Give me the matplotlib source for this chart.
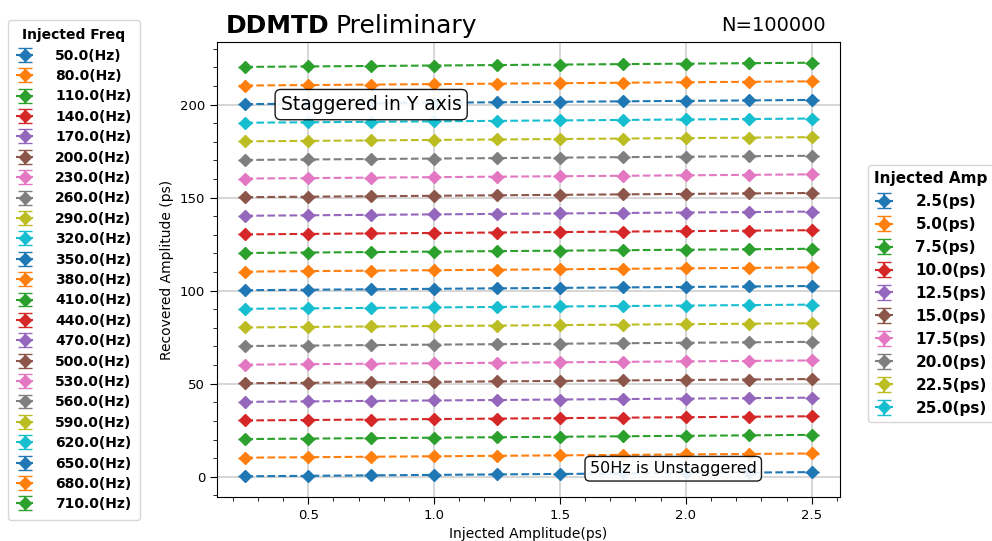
import matplotlib
matplotlib.use("Agg")
import matplotlib.pyplot as plt
from matplotlib.ticker import MultipleLocator

# ---- data ----
injected_amp = [0.25, 0.5, 0.75, 1.0, 1.25, 1.5, 1.75, 2.0, 2.25, 2.5]
recovered_amp = [0.25, 0.5, 0.75, 1.0, 1.25, 1.5, 1.75, 2.0, 2.25, 2.5]
recovered_err = [0.02, 0.02, 0.02, 0.02, 0.02, 0.02, 0.02, 0.02, 0.02, 0.02]
freqs = [50, 80, 110, 140, 170, 200, 230, 260, 290, 320, 350, 380, 410,
         440, 470, 500, 530, 560, 590, 620, 650, 680, 710]
stagger_step = 10
amp_legend_labels = [2.5, 5.0, 7.5, 10.0, 12.5, 15.0, 17.5, 20.0, 22.5, 25.0]

colors = plt.rcParams['axes.prop_cycle'].by_key()['color']

fig = plt.figure(figsize=(9.92, 5.41), dpi=100)
ax = fig.add_axes([217/992, 1-497/541, (840-217)/992, (497-42)/541])

handles = []
for i, f in enumerate(freqs):
    y = [v + stagger_step * i for v in recovered_amp]
    h = ax.errorbar(injected_amp, y, yerr=recovered_err, fmt='D--',
                    color=colors[i % len(colors)], markersize=6.5,
                    linewidth=1.5, capsize=5, label=f"{float(f)}(Hz)")
    handles.append(h)

ax.set_axisbelow(True)
ax.grid(True, which='major', color='#cfcfcf', linewidth=1.2)
ax.xaxis.set_major_locator(MultipleLocator(0.5))
ax.xaxis.set_minor_locator(MultipleLocator(0.1))
ax.yaxis.set_major_locator(MultipleLocator(50))
ax.yaxis.set_minor_locator(MultipleLocator(10))
ax.tick_params(which='major', length=5, labelsize=9.5, direction='out')
ax.tick_params(which='minor', length=3, direction='out')
ax.set_xlabel("Injected Amplitude(ps)", fontsize=10)
ax.set_ylabel("Recovered Amplitude (ps)", fontsize=10)

# title texts
fig.text(226/992, 1-33/541, "DDMTD", fontsize=18, fontweight='bold',
         ha='left', va='baseline')
fig.text(336/992, 1-33/541, "Preliminary", fontsize=18,
         ha='left', va='baseline')
fig.text(826/992, 1-31/541, "N=100000", fontsize=14,
         ha='right', va='baseline')

box = dict(boxstyle='round,pad=0.3', facecolor='white', edgecolor='black',
           alpha=0.9, linewidth=1)
ax.text(0.75, 200, "Staggered in Y axis", fontsize=13.5, ha='center',
        va='center', bbox=box, zorder=10)
ax.text(1.95, 4.3, "50Hz is Unstaggered", fontsize=11.5, ha='center',
        va='center', bbox=box, zorder=10)

leg1 = fig.legend(handles=handles, labels=[f"{float(f)}(Hz)" for f in freqs],
                  loc='upper left', bbox_to_anchor=(8/992, 1-20/541),
                  borderaxespad=0,
                  title="Injected Freq", prop={'weight': 'bold', 'size': 10},
                  title_fontproperties={'weight': 'bold', 'size': 10},
                  labelspacing=0.46, handlelength=1.2, handletextpad=1.6,
                  borderpad=0.6, frameon=True)

leg2 = fig.legend(handles=handles[:10],
                  labels=[f"{a}(ps)" for a in amp_legend_labels],
                  loc='upper left', bbox_to_anchor=(868/992, 1-165/541),
                  borderaxespad=0,
                  title="Injected Amp", prop={'weight': 'bold', 'size': 11},
                  title_fontproperties={'weight': 'bold', 'size': 11},
                  labelspacing=0.52, handlelength=1.2, handletextpad=1.45,
                  borderpad=0.4, frameon=True)

fig.savefig("out.png", dpi=100)
